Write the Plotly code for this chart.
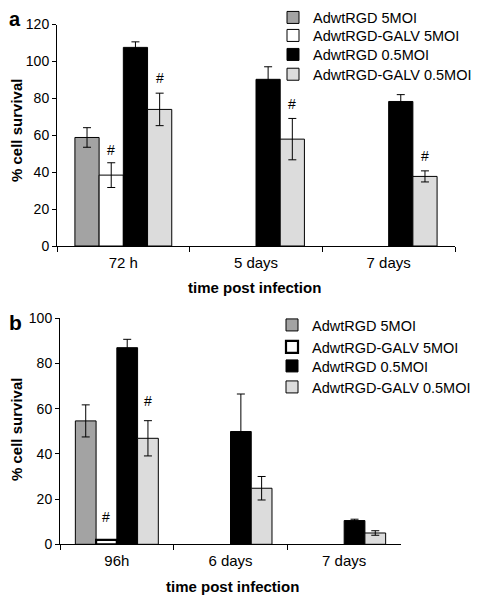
import plotly.graph_objects as go

# ---------------- data ----------------
series_names = ["AdwtRGD 5MOI", "AdwtRGD-GALV 5MOI", "AdwtRGD 0.5MOI", "AdwtRGD-GALV 0.5MOI"]
series_colors = ["#a3a3a3", "#ffffff", "#000000", "#dcdcdc"]

cats_a = ["72 h", "5 days", "7 days"]
a_rgd5 = [58.8, None, None]
a_rgd5_err = [5.3, 0, 0]
a_galv5 = [38.4, None, None]
a_galv5_err = [6.7, 0, 0]
a_rgd05 = [107.6, 90.3, 78.3]
a_rgd05_err = [3.0, 6.8, 3.7]
a_galv05 = [74.0, 57.9, 37.7]
a_galv05_err = [8.8, 11.2, 3.0]
# significance marks: (series index, category index, y value)
a_hash = [(1, 0, 52.0), (3, 0, 91.2), (3, 1, 76.9), (3, 2, 48.7)]

cats_b = ["96h", "6 days", "7 days"]
b_rgd5 = [54.6, None, None]
b_rgd5_err = [7.1, 0, 0]
b_galv5 = [2.0, None, None]
b_galv5_err = [0, 0, 0]
b_rgd05 = [87.0, 49.9, 10.5]
b_rgd05_err = [3.7, 16.6, 0.6]
b_galv05 = [46.9, 24.8, 5.0]
b_galv05_err = [7.8, 5.2, 1.0]
b_hash = [(1, 0, 12.2), (3, 0, 63.6)]

FONT = "Liberation Sans, Arial, Helvetica, sans-serif"
W, H = 482, 601
OFF = 8  # page body margin
BARGAP = 0.27


def px_x(v):
    return (v - OFF) / W


def px_y(v):
    return 1 - (v - OFF) / H


fig = go.Figure()

panels = [
    dict(cats=cats_a, vals=[a_rgd5, a_galv5, a_rgd05, a_galv05],
         errs=[a_rgd5_err, a_galv5_err, a_rgd05_err, a_galv05_err],
         hashes=a_hash, xa="x", ya="y",
         leg_x=273, leg_y=[16.5, 34.5, 53.5, 73.3]),
    dict(cats=cats_b, vals=[b_rgd5, b_galv5, b_rgd05, b_galv05],
         errs=[b_rgd5_err, b_galv5_err, b_rgd05_err, b_galv05_err],
         hashes=b_hash, xa="x2", ya="y2",
         leg_x=272, leg_y=[324.0, 346.0, 365.0, 386.0]),
]

legend_common = dict(font=dict(family=FONT, size=14.5, color="black"), bgcolor="rgba(0,0,0,0)",
                     itemwidth=30, xanchor="left", yanchor="top", borderwidth=0)
legends = {}
k = 0
for p in panels:
    for i, name in enumerate(series_names):
        k += 1
        lid = "legend" if k == 1 else f"legend{k}"
        legends[lid] = dict(x=px_x(p["leg_x"]), y=px_y(p["leg_y"][i] - 15), **legend_common)
        lw = 1
        if p["xa"] == "x2" and i == 1:
            lw = [2.2, 1, 1]
        fig.add_trace(go.Bar(
            x=p["cats"], y=p["vals"][i], name=name,
            marker=dict(color=series_colors[i], line=dict(color="black", width=lw)),
            error_y=dict(type="data", array=p["errs"][i], visible=True,
                         color="black", thickness=1, width=4),
            xaxis=p["xa"], yaxis=p["ya"], legend=lid, showlegend=True,
            offsetgroup=str(i),
        ))

nser = len(series_names)
bw = (1 - BARGAP) / nser
annotations = []
for p in panels:
    for (si, ci, yv) in p["hashes"]:
        annotations.append(dict(
            x=ci + (si - (nser - 1) / 2) * bw, y=yv, xref=p["xa"], yref=p["ya"],
            text="#", showarrow=False, font=dict(family=FONT, size=14, color="black"),
            xanchor="center", yanchor="middle"))

title_font = dict(family=FONT, size=15, color="black")
annotations += [
    dict(text="<b>% cell survival</b>", x=px_x(16), y=px_y(131), xref="paper", yref="paper",
         textangle=-90, showarrow=False, font=title_font, xanchor="center", yanchor="middle"),
    dict(text="<b>time post infection</b>", x=px_x(255), y=px_y(287), xref="paper", yref="paper",
         showarrow=False, font=title_font, xanchor="center", yanchor="middle"),
    dict(text="<b>% cell survival</b>", x=px_x(16), y=px_y(430), xref="paper", yref="paper",
         textangle=-90, showarrow=False, font=title_font, xanchor="center", yanchor="middle"),
    dict(text="<b>time post infection</b>", x=px_x(232), y=px_y(586), xref="paper", yref="paper",
         showarrow=False, font=title_font, xanchor="center", yanchor="middle"),
    dict(text="<b>a</b>", x=0, y=px_y(19.5), xref="paper", yref="paper",
         xanchor="left", yanchor="middle", borderpad=0,
         showarrow=False, font=dict(family=FONT, size=20, color="black")),
    dict(text="<b>b</b>", x=0, y=px_y(322), xref="paper", yref="paper",
         xanchor="left", yanchor="middle", borderpad=0,
         showarrow=False, font=dict(family=FONT, size=21, color="black")),
]

xaxis_common = dict(showline=True, linecolor="black", linewidth=1, ticks="outside",
                    ticklen=5, tickcolor="black", tickson="boundaries", showgrid=False,
                    tickfont=dict(family=FONT, size=15, color="black"), type="category",
                    automargin=False, ticklabelstandoff=3)
yaxis_common = dict(showline=True, linecolor="black", linewidth=1, ticks="outside",
                    ticklen=4, tickcolor="black", showgrid=False, zeroline=False, dtick=20,
                    tickfont=dict(family=FONT, size=14, color="black"), automargin=False)

fig.update_layout(
    width=W, height=H, margin=dict(l=0, r=0, t=0, b=0, pad=0, autoexpand=False),
    paper_bgcolor="white", plot_bgcolor="white", showlegend=True,
    barmode="group", bargap=BARGAP, bargroupgap=0,
    font=dict(family=FONT, size=14, color="black"),
    xaxis=dict(domain=[px_x(57), px_x(455)], anchor="y", **xaxis_common),
    yaxis=dict(domain=[px_y(246), px_y(24.5)], anchor="x", range=[0, 120], **yaxis_common),
    xaxis2=dict(domain=[px_x(60), px_x(401)], anchor="y2", **xaxis_common),
    yaxis2=dict(domain=[px_y(544.3), px_y(318.3)], anchor="x2", range=[0, 100], **yaxis_common),
    annotations=annotations,
    **legends,
)

fig.write_html("out.html")
